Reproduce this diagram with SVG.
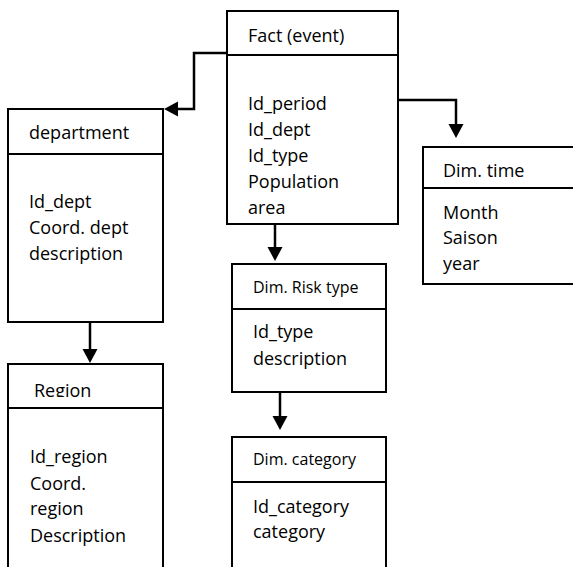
<svg xmlns="http://www.w3.org/2000/svg" width="573" height="567" viewBox="0 0 573 567">
<style>
.box{fill:#fff;stroke:#000;stroke-width:2}
.sep{stroke:#000;stroke-width:2}
.t{font-family:"Open Sans","Noto Sans",sans-serif;font-size:18px;fill:#000}
.s{font-family:"Open Sans","Noto Sans",sans-serif;font-size:16px;fill:#000}
.c{fill:none;stroke:#000;stroke-width:2.5}
</style>
<defs>
<marker id="arr" markerUnits="userSpaceOnUse" markerWidth="15" markerHeight="16" refX="4" refY="7.5" orient="auto" viewBox="0 0 15 16">
<path d="M0,0 L14,7.5 L0,15 z" fill="#000"/>
</marker>
<clipPath id="regclip"><rect x="8" y="364" width="155" height="33"/></clipPath>
</defs>
<rect width="573" height="567" fill="#fff"/>
<g id="connectors">
<path class="c" d="M227,53 H194 V109 H174" marker-end="url(#arr)"/>
<path class="c" d="M398,100 H456 V128" marker-end="url(#arr)"/>
<path class="c" d="M275,224 V251" marker-end="url(#arr)"/>
<path class="c" d="M280,392 V420" marker-end="url(#arr)"/>
<path class="c" d="M90,322 V353" marker-end="url(#arr)"/>
</g>
<g id="fact">
<rect class="box" x="227" y="11" width="171" height="213"/>
<line class="sep" x1="227" y1="55" x2="398" y2="55"/>
<text class="t" x="248" y="42">Fact (event)</text>
<text class="t" x="248" y="110">Id_period</text>
<text class="t" x="248" y="136">Id_dept</text>
<text class="t" x="248" y="162">Id_type</text>
<text class="t" x="248" y="188">Population</text>
<text class="t" x="248" y="214">area</text>
</g>
<g id="department">
<rect class="box" x="8" y="109" width="155" height="213"/>
<line class="sep" x1="8" y1="154" x2="163" y2="154"/>
<text class="t" x="29" y="139">department</text>
<text class="t" x="29" y="208">Id_dept</text>
<text class="t" x="29" y="234">Coord. dept</text>
<text class="t" x="29" y="260">description</text>
</g>
<g id="region">
<rect class="box" x="8" y="364" width="155" height="230"/>
<line class="sep" x1="8" y1="408" x2="163" y2="408"/>
<text class="t" x="34" y="397" clip-path="url(#regclip)">Region</text>
<text class="t" x="30" y="463">Id_region</text>
<text class="t" x="30" y="490">Coord.</text>
<text class="t" x="30" y="515">region</text>
<text class="t" x="30" y="542">Description</text>
</g>
<g id="dimtime">
<rect class="box" x="423" y="147" width="170" height="137"/>
<line class="sep" x1="423" y1="188" x2="593" y2="188"/>
<text class="t" x="443" y="177">Dim. time</text>
<text class="t" x="443" y="219">Month</text>
<text class="t" x="443" y="244">Saison</text>
<text class="t" x="443" y="270">year</text>
</g>
<g id="risktype">
<rect class="box" x="232" y="264" width="154" height="128"/>
<line class="sep" x1="232" y1="309" x2="386" y2="309"/>
<text class="s" x="253" y="293">Dim. Risk type</text>
<text class="t" x="253" y="338">Id_type</text>
<text class="t" x="253" y="365">description</text>
</g>
<g id="category">
<rect class="box" x="232" y="437" width="154" height="160"/>
<line class="sep" x1="232" y1="482" x2="386" y2="482"/>
<text class="s" x="253" y="465">Dim. category</text>
<text class="t" x="253" y="513">Id_category</text>
<text class="t" x="253" y="538">category</text>
</g>
</svg>
